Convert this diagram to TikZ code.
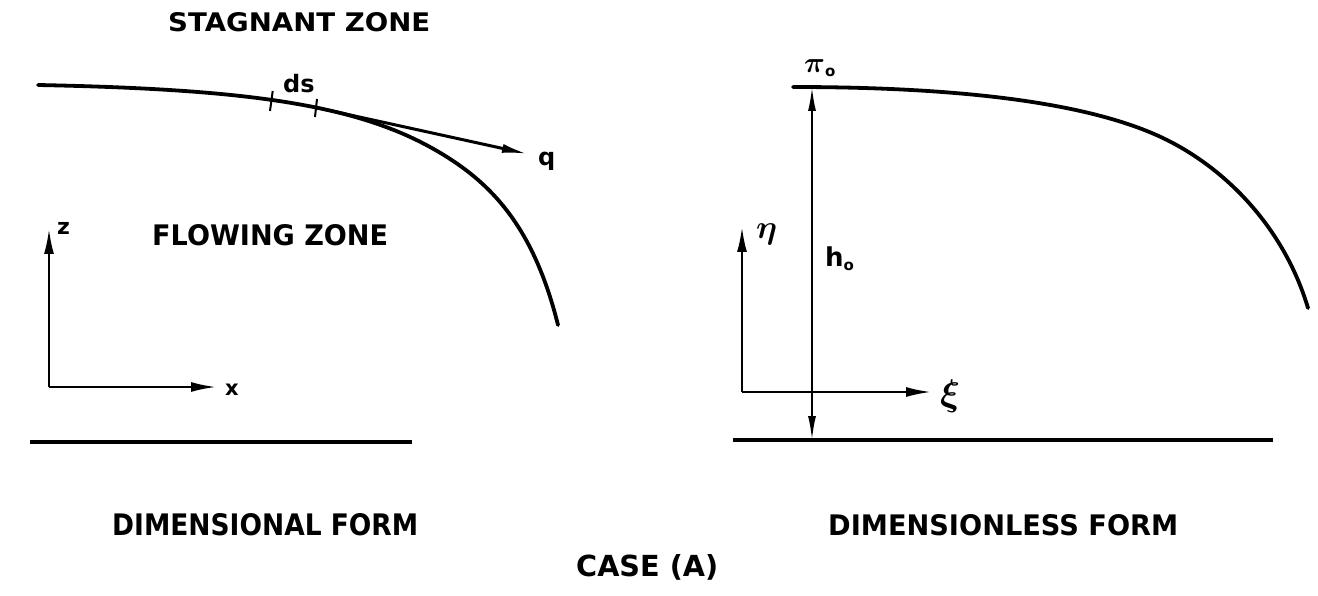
\documentclass[tikz,border=0pt]{standalone}
\usepackage{fontspec}
\usepackage{bm}
\usetikzlibrary{arrows.meta}
\newfontfamily\lett{DejaVu Sans}
\newcommand{\capstext}[3]{\resizebox{#1pt}{#2pt}{\lett\bfseries #3}}
\newcommand{\subo}[1]{\raisebox{#1}{\lett\bfseries\fontsize{15}{15}\selectfont o}}
\begin{document}
\begin{tikzpicture}[x=1pt,y=-1pt,
  curveline/.style={line width=3.8pt, line cap=round},
  groundline/.style={line width=3.4pt},
  axisarrow/.style={line width=2.2pt, -{Latex[length=25pt,width=10pt]}},
  tangentarrow/.style={line width=3pt, -{Latex[length=26pt,width=9pt]}},
  heightarrow/.style={line width=2pt, {Latex[length=24pt,width=8pt]}-{Latex[length=24pt,width=8pt]}},
  tickmark/.style={line width=2pt},
  caplabel/.style={inner sep=0pt, anchor=south west},
  smalllabel/.style={inner sep=0pt, anchor=base west},
]
\fill[white] (0,0) rectangle (1318,596);
\useasboundingbox (0,0) rectangle (1318,596);

% ---------- Left: dimensional form ----------
\node[caplabel] (stag) at (168,32) {\capstext{262}{19}{STAGNANT ZONE}};
\node[caplabel] (flow) at (152,246) {\capstext{236}{21}{FLOWING ZONE}};

\draw[curveline] (38,85) .. controls (238,89) and (350,103) .. (430,147)
                        .. controls (490,180) and (533,225) .. (558,325);

\coordinate (tickA1) at (272.7,91);
\coordinate (tickA2) at (270,111);
\coordinate (tickB1) at (317,99);
\coordinate (tickB2) at (315,117);
\draw[tickmark] (tickA1) -- (tickA2);
\draw[tickmark] (tickB1) -- (tickB2);
\node[smalllabel, font=\lett\bfseries\fontsize{24}{24}\selectfont] (ds) at (283,93) {ds};

\coordinate (tanstart) at (316,107.5);
\coordinate (tanend) at (528,154);
\draw[tangentarrow] (tanstart) -- (tanend);
\node[smalllabel, font=\lett\bfseries\fontsize{24}{24}\selectfont] (q) at (538,166) {q};

\coordinate (Lorig) at (49,387);
\coordinate (Lz) at (49,229);
\coordinate (Lx) at (216,387);
\draw[axisarrow] (Lorig) -- (Lz);
\draw[axisarrow] (Lorig) -- (Lx);
\node[smalllabel, font=\lett\bfseries\fontsize{22}{22}\selectfont] (zl) at (57,235) {z};
\node[smalllabel, font=\lett\bfseries\fontsize{21}{21}\selectfont] (xl) at (225,395) {x};

\coordinate (Lg1) at (30,442);
\coordinate (Lg2) at (412,442);
\draw[groundline] (Lg1) -- (Lg2);

\node[caplabel] (dimf) at (112,536) {\capstext{306}{22}{DIMENSIONAL FORM}};

% ---------- Right: dimensionless form ----------
\draw[curveline] (793,87) .. controls (973,87) and (1097,105) .. (1167,140)
                          .. controls (1227,170) and (1284,228) .. (1308,308);

\coordinate (Rtop) at (812,87);
\coordinate (Rbot) at (812,440);
\draw[heightarrow] (Rbot) -- (Rtop);
\node[smalllabel] (pio) at (804,73) {\scalebox{2.9}{$\bm{\pi}$}\subo{-4pt}};
\node[smalllabel, font=\lett\bfseries\fontsize{26}{26}\selectfont] (ho) at (825,267) {h\subo{-4pt}};

\coordinate (Rorig) at (742,392);
\coordinate (Reta) at (742,227);
\coordinate (Rxi) at (931,392);
\draw[axisarrow] (Rorig) -- (Reta);
\draw[axisarrow] (Rorig) -- (Rxi);
\node[smalllabel] (etal) at (756,239) {\scalebox{3.3}{$\bm{\eta}$}};
\node[smalllabel] (xil) at (940,405) {\scalebox{3.7}{$\bm{\xi}$}};

\coordinate (Rg1) at (733,440);
\coordinate (Rg2) at (1273,440);
\draw[groundline] (Rg1) -- (Rg2);

\node[caplabel] (dimlf) at (828,536) {\capstext{350}{21}{DIMENSIONLESS FORM}};
\node[caplabel] (casea) at (576,581) {\capstext{142}{22}{CASE (A)}};
\end{tikzpicture}
\end{document}
